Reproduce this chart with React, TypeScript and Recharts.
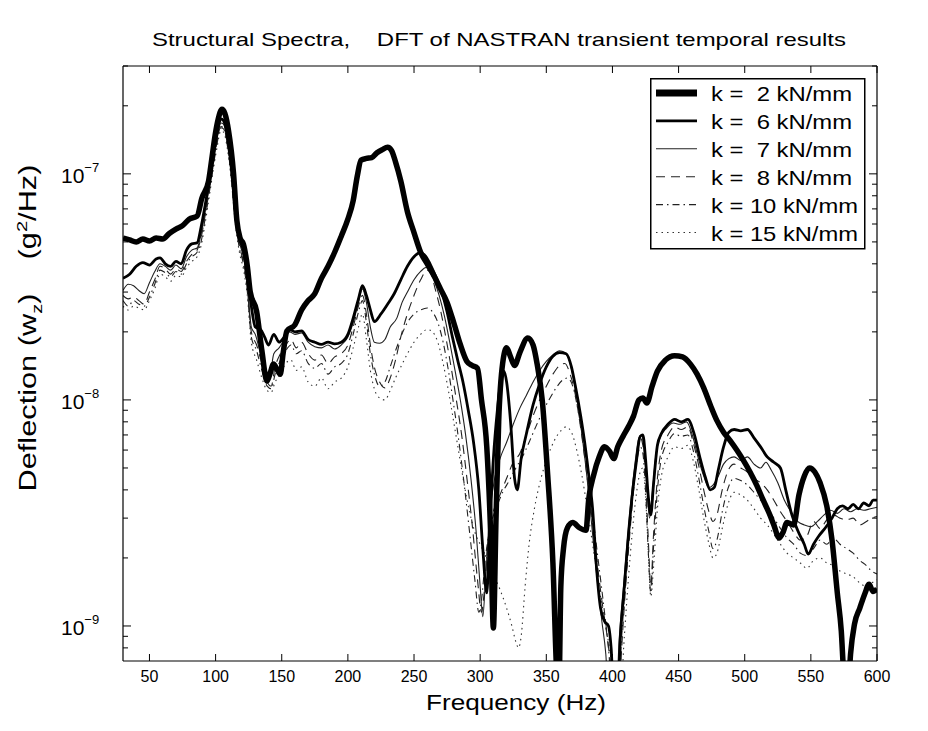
import React from 'react';
import { LineChart, Line, XAxis, YAxis, Legend } from 'recharts';

const FONT = "'Liberation Sans', Arial, Helvetica, sans-serif";

// frequency (Hz) and deflection PSD (g^2/Hz)
const freqK2 = [30, 35, 40, 45, 50, 55, 60, 65, 70, 75, 80, 86, 89.6, 94.7, 97, 99.7, 102, 104.8, 107, 109.8, 113.6, 116.1, 118.5, 121, 124, 126.2, 131, 135, 138.8, 141, 143.8, 146, 148.9, 151, 153.9, 160, 165, 170, 175, 180, 185, 190, 195, 200, 204, 207, 210, 214, 218, 222, 226, 230, 233, 236, 240, 245, 250, 255, 260, 265, 270, 275, 280, 285, 290, 294, 298, 301, 305, 308, 310, 312, 314, 317, 320, 323, 326, 330, 336, 340, 343, 347, 351, 355, 358, 359.5, 361, 363, 366, 370, 375, 380, 382, 386, 390, 394, 398, 401, 404, 408, 412, 416, 420, 423, 426, 430, 434, 440, 447, 453, 459, 464, 469, 474, 479, 484, 489, 494, 499, 504, 509, 514, 518, 522, 526, 529, 532, 537, 541, 545, 549, 553, 557, 562, 566, 570, 573, 575, 578, 580, 583, 587, 591, 594, 597, 600];
const psdK2 = [5.2e-8, 5.1e-8, 5.0e-8, 5.15e-8, 5.05e-8, 5.2e-8, 5.15e-8, 5.45e-8, 5.7e-8, 5.9e-8, 6.3e-8, 6.5e-8, 7.8e-8, 9.3e-8, 1.15e-7, 1.49e-7, 1.75e-7, 1.93e-7, 1.85e-7, 1.55e-7, 1.0e-7, 6.2e-8, 5.2e-8, 4.9e-8, 3.9e-8, 3.0e-8, 2.47e-8, 1.65e-8, 1.21e-8, 1.3e-8, 1.44e-8, 1.38e-8, 1.3e-8, 1.6e-8, 2.02e-8, 2.15e-8, 2.5e-8, 2.75e-8, 2.95e-8, 3.45e-8, 3.9e-8, 4.5e-8, 5.3e-8, 6.3e-8, 7.6e-8, 9.7e-8, 1.15e-7, 1.17e-7, 1.18e-7, 1.24e-7, 1.28e-7, 1.31e-7, 1.27e-7, 1.13e-7, 9.3e-8, 6.8e-8, 5.5e-8, 4.5e-8, 4.0e-8, 3.55e-8, 3.1e-8, 2.7e-8, 2.2e-8, 1.76e-8, 1.48e-8, 1.42e-8, 1.38e-8, 1.0e-8, 6.2e-9, 2.5e-9, 9.8e-10, 3.0e-9, 8e-9, 1.45e-8, 1.7e-8, 1.55e-8, 1.42e-8, 1.62e-8, 1.88e-8, 1.75e-8, 1.45e-8, 9.9e-9, 4.7e-9, 1.9e-9, 6e-10, 5e-10, 1.5e-9, 2.2e-9, 2.72e-9, 2.87e-9, 2.72e-9, 2.65e-9, 3.6e-9, 4.7e-9, 5.6e-9, 6.2e-9, 5.9e-9, 5.5e-9, 6.2e-9, 6.9e-9, 7.6e-9, 8.5e-9, 1.0e-8, 1.02e-8, 9.7e-9, 1.15e-8, 1.34e-8, 1.5e-8, 1.57e-8, 1.55e-8, 1.44e-8, 1.3e-8, 1.13e-8, 9.5e-9, 8.1e-9, 7.2e-9, 6.6e-9, 6.0e-9, 5.4e-9, 4.8e-9, 4.2e-9, 3.6e-9, 3.2e-9, 2.8e-9, 2.45e-9, 2.6e-9, 2.87e-9, 2.8e-9, 3.8e-9, 4.6e-9, 5.0e-9, 4.8e-9, 4.3e-9, 3.4e-9, 2.4e-9, 1.4e-9, 9.5e-10, 6e-10, 5e-10, 7.5e-10, 1.02e-9, 1.2e-9, 1.4e-9, 1.53e-9, 1.42e-9, 1.46e-9];

const freqK6 = [30, 35, 40, 45, 50, 55, 58, 62, 66, 70, 74, 78, 82, 86, 89, 92, 95, 98, 101, 104, 106, 109, 112, 115, 118, 121, 124, 127, 130, 134, 137, 140, 144, 148, 152, 156, 160, 165, 170, 175, 180, 185, 190, 195, 200, 204, 208, 211, 214, 217, 220, 225, 230, 235, 240, 245, 250, 255, 259, 263, 267, 271, 275, 279, 283, 287, 291, 295, 299, 302, 305, 307, 310, 313, 316, 318, 320, 323, 326, 328, 331, 335, 340, 345, 350, 355, 360, 365, 369, 372, 376, 379, 382, 385, 388, 391, 394, 397, 399, 401, 404, 406, 409, 412, 415, 418, 421, 423, 425, 427, 429, 431, 434, 437, 442, 447, 452, 457, 462, 466, 470, 474, 477, 480, 484, 488, 492, 497, 502, 507, 512, 517, 522, 527, 531, 535, 540, 545, 548, 552, 556, 561, 566, 570, 574, 578, 582, 586, 590, 594, 597, 600];
const psdK6 = [3.45e-8, 3.6e-8, 3.9e-8, 4.05e-8, 3.95e-8, 4.2e-8, 4.25e-8, 4.0e-8, 3.9e-8, 4.1e-8, 4.0e-8, 4.6e-8, 4.9e-8, 4.95e-8, 5.8e-8, 7.2e-8, 9.2e-8, 1.2e-7, 1.5e-7, 1.75e-7, 1.72e-7, 1.45e-7, 1.05e-7, 6.8e-8, 5.2e-8, 4.6e-8, 3.6e-8, 2.6e-8, 2.1e-8, 2.05e-8, 1.9e-8, 1.75e-8, 1.95e-8, 1.8e-8, 1.9e-8, 2.05e-8, 2.0e-8, 2.02e-8, 1.85e-8, 1.8e-8, 1.76e-8, 1.8e-8, 1.77e-8, 1.8e-8, 1.95e-8, 2.3e-8, 2.8e-8, 3.2e-8, 2.9e-8, 2.5e-8, 2.22e-8, 2.4e-8, 2.65e-8, 2.95e-8, 3.4e-8, 3.9e-8, 4.3e-8, 4.48e-8, 4.3e-8, 3.9e-8, 3.45e-8, 3.0e-8, 2.45e-8, 1.9e-8, 1.5e-8, 1.2e-8, 9e-9, 6.5e-9, 4e-9, 2.2e-9, 1.4e-9, 2.5e-9, 5.5e-9, 9e-9, 1.25e-8, 1.34e-8, 1.2e-8, 8e-9, 4.5e-9, 4.0e-9, 5.5e-9, 7.1e-9, 9.5e-9, 1.18e-8, 1.4e-8, 1.56e-8, 1.62e-8, 1.6e-8, 1.4e-8, 1.15e-8, 8.5e-9, 6.5e-9, 4.7e-9, 3.3e-9, 1.8e-9, 1.2e-9, 1.05e-9, 1.0e-9, 8e-10, 5e-10, 5e-10, 9e-10, 1.5e-9, 2.5e-9, 3.8e-9, 5.3e-9, 6.9e-9, 7.0e-9, 5.5e-9, 3.8e-9, 3.1e-9, 4.2e-9, 6.3e-9, 7.1e-9, 7.8e-9, 8.2e-9, 8.0e-9, 8.2e-9, 7.0e-9, 5.6e-9, 4.6e-9, 4.0e-9, 4.1e-9, 4.9e-9, 6.2e-9, 7.2e-9, 7.4e-9, 7.3e-9, 7.4e-9, 6.8e-9, 6.2e-9, 5.6e-9, 5.3e-9, 5.0e-9, 4.0e-9, 3.2e-9, 2.65e-9, 2.3e-9, 2.08e-9, 2.3e-9, 2.5e-9, 2.72e-9, 3.0e-9, 3.3e-9, 3.4e-9, 3.3e-9, 3.45e-9, 3.3e-9, 3.5e-9, 3.4e-9, 3.6e-9, 3.6e-9];

const freqK7 = [30, 34, 38, 42, 46, 50, 54, 58, 62, 66, 70, 74, 78, 82, 86, 89, 92, 95, 98, 101, 104, 106, 109, 112, 115, 118, 121, 124, 127, 130, 134, 138, 141, 144, 148, 152, 156, 160, 165, 170, 175, 180, 185, 190, 195, 200, 204, 208, 211, 214, 217, 220, 224, 228, 232, 237, 241, 245, 250, 255, 259, 262, 265, 269, 273, 277, 281, 285, 289, 293, 297, 300, 302, 304, 307, 311, 315, 320, 325, 330, 335, 340, 345, 350, 355, 360, 364, 368, 371, 374, 377, 380, 383, 386, 389, 392, 395, 397, 400, 403, 405, 408, 411, 414, 417, 420, 422, 424, 426, 428, 430, 433, 436, 441, 446, 451, 456, 461, 465, 469, 473, 476, 480, 484, 488, 492, 497, 502, 507, 512, 516, 520, 525, 530, 535, 540, 545, 550, 555, 560, 565, 570, 575, 580, 585, 590, 595, 600];
const psdK7 = [3.05e-8, 3.25e-8, 3.2e-8, 3.05e-8, 2.95e-8, 3.3e-8, 3.7e-8, 4.0e-8, 3.9e-8, 3.75e-8, 3.95e-8, 3.8e-8, 4.3e-8, 4.6e-8, 4.7e-8, 5.4e-8, 6.8e-8, 8.6e-8, 1.12e-7, 1.42e-7, 1.68e-7, 1.66e-7, 1.4e-7, 1.0e-7, 6.6e-8, 5.0e-8, 4.3e-8, 3.3e-8, 2.1e-8, 1.95e-8, 1.6e-8, 1.35e-8, 1.3e-8, 1.6e-8, 1.7e-8, 1.85e-8, 2.0e-8, 1.95e-8, 1.98e-8, 1.8e-8, 1.72e-8, 1.7e-8, 1.75e-8, 1.68e-8, 1.75e-8, 1.9e-8, 2.2e-8, 2.7e-8, 3.1e-8, 2.7e-8, 2.1e-8, 1.8e-8, 1.78e-8, 1.85e-8, 2.1e-8, 2.3e-8, 2.7e-8, 3.0e-8, 3.4e-8, 3.7e-8, 3.85e-8, 3.75e-8, 3.4e-8, 2.9e-8, 2.35e-8, 1.8e-8, 1.35e-8, 1.0e-8, 7e-9, 4.5e-9, 2.6e-9, 1.5e-9, 1.1e-9, 1.6e-9, 3.0e-9, 4.5e-9, 5.5e-9, 6.5e-9, 7.8e-9, 9.2e-9, 1.05e-8, 1.2e-8, 1.35e-8, 1.48e-8, 1.58e-8, 1.65e-8, 1.62e-8, 1.45e-8, 1.2e-8, 9.5e-9, 7e-9, 5e-9, 3.4e-9, 2.2e-9, 1.5e-9, 1.05e-9, 7.5e-10, 5e-10, 5e-10, 5e-10, 8.5e-10, 1.4e-9, 2.3e-9, 3.6e-9, 5.2e-9, 6.8e-9, 7.0e-9, 6.0e-9, 4.2e-9, 3.0e-9, 3.8e-9, 5.8e-9, 6.8e-9, 7.5e-9, 7.9e-9, 7.8e-9, 8.0e-9, 6.8e-9, 5.5e-9, 4.6e-9, 4.1e-9, 4.2e-9, 4.6e-9, 5.2e-9, 5.5e-9, 5.6e-9, 5.4e-9, 5.6e-9, 5.2e-9, 5.0e-9, 5.3e-9, 4.9e-9, 4.3e-9, 3.6e-9, 3.2e-9, 2.9e-9, 2.8e-9, 2.75e-9, 2.9e-9, 3.1e-9, 3.25e-9, 3.15e-9, 3.3e-9, 3.2e-9, 3.3e-9, 3.25e-9, 3.3e-9, 3.35e-9];

const freqK8 = [30, 34, 38, 42, 46, 50, 54, 58, 62, 66, 70, 74, 78, 82, 86, 89, 92, 95, 98, 101, 104, 106, 109, 112, 115, 118, 121, 124, 127, 131, 135, 139, 142, 145, 149, 153, 157, 161, 165, 170, 175, 180, 185, 190, 195, 200, 204, 208, 211, 214, 217, 220, 224, 228, 232, 236, 240, 245, 250, 255, 260, 263, 266, 270, 274, 278, 282, 286, 290, 294, 298, 301, 303, 306, 310, 315, 320, 325, 330, 335, 340, 345, 350, 355, 360, 364, 368, 372, 376, 380, 384, 388, 392, 396, 399, 402, 405, 407, 410, 413, 416, 419, 421, 423, 425, 427, 429, 431, 434, 437, 442, 447, 452, 457, 461, 465, 469, 473, 476, 479, 483, 487, 492, 497, 502, 507, 512, 517, 522, 527, 532, 537, 542, 547, 552, 557, 562, 567, 572, 577, 582, 587, 592, 596, 600];
const psdK8 = [2.9e-8, 2.8e-8, 2.85e-8, 2.75e-8, 2.65e-8, 3.0e-8, 3.4e-8, 3.9e-8, 3.8e-8, 3.6e-8, 3.8e-8, 3.7e-8, 4.1e-8, 4.4e-8, 4.6e-8, 5.2e-8, 6.5e-8, 8.3e-8, 1.08e-7, 1.38e-7, 1.62e-7, 1.6e-7, 1.35e-7, 9.8e-8, 6.4e-8, 4.8e-8, 4.1e-8, 3.1e-8, 2.0e-8, 1.75e-8, 1.45e-8, 1.2e-8, 1.15e-8, 1.4e-8, 1.6e-8, 1.75e-8, 1.85e-8, 1.7e-8, 1.8e-8, 1.6e-8, 1.5e-8, 1.58e-8, 1.45e-8, 1.55e-8, 1.6e-8, 1.75e-8, 2.1e-8, 2.6e-8, 2.9e-8, 2.4e-8, 1.75e-8, 1.4e-8, 1.2e-8, 1.13e-8, 1.25e-8, 1.5e-8, 1.9e-8, 2.4e-8, 2.9e-8, 3.4e-8, 3.75e-8, 3.6e-8, 3.1e-8, 2.5e-8, 1.9e-8, 1.4e-8, 1.0e-8, 7e-9, 4.5e-9, 2.8e-9, 1.6e-9, 1.15e-9, 1.4e-9, 2.4e-9, 3.2e-9, 3.8e-9, 4.5e-9, 5.3e-9, 5.8e-9, 7e-9, 8.5e-9, 1.0e-8, 1.15e-8, 1.3e-8, 1.42e-8, 1.45e-8, 1.3e-8, 1.05e-8, 7.5e-9, 5e-9, 3.2e-9, 2e-9, 1.3e-9, 9e-10, 6.5e-10, 5e-10, 5e-10, 8e-10, 1.5e-9, 2.5e-9, 4e-9, 5.8e-9, 6.8e-9, 6.3e-9, 4.5e-9, 2.5e-9, 1.5e-9, 2.5e-9, 4.5e-9, 6e-9, 7e-9, 7.6e-9, 7.4e-9, 7.6e-9, 6.5e-9, 5.2e-9, 4.0e-9, 3.2e-9, 2.9e-9, 3.1e-9, 4.0e-9, 4.8e-9, 5.2e-9, 5.0e-9, 4.8e-9, 4.5e-9, 4.3e-9, 4.0e-9, 3.6e-9, 3.2e-9, 2.9e-9, 2.6e-9, 2.4e-9, 2.5e-9, 2.9e-9, 2.7e-9, 2.95e-9, 3.1e-9, 3.0e-9, 2.95e-9, 3.0e-9, 2.8e-9, 2.9e-9, 3.0e-9, 3.05e-9];

const freqK10 = [30, 34, 38, 42, 46, 50, 54, 58, 62, 66, 70, 74, 78, 82, 86, 89, 92, 95, 98, 101, 104, 106, 109, 112, 115, 118, 121, 124, 127, 131, 135, 139, 142, 145, 149, 153, 157, 161, 165, 170, 175, 180, 185, 190, 195, 200, 204, 208, 211, 214, 217, 220, 224, 228, 232, 236, 240, 245, 250, 255, 260, 264, 268, 272, 276, 280, 284, 288, 292, 296, 299, 301, 304, 308, 312, 317, 322, 327, 332, 337, 342, 347, 352, 357, 362, 366, 370, 374, 378, 382, 386, 390, 394, 397, 400, 404, 407, 410, 413, 416, 419, 421, 423, 425, 427, 429, 431, 434, 437, 442, 447, 452, 457, 461, 465, 469, 473, 476, 479, 483, 487, 492, 497, 502, 507, 512, 517, 522, 527, 532, 537, 542, 547, 552, 557, 562, 567, 572, 577, 582, 587, 592, 596, 600];
const psdK10 = [2.75e-8, 2.6e-8, 2.75e-8, 2.65e-8, 2.6e-8, 2.85e-8, 3.25e-8, 3.75e-8, 3.65e-8, 3.5e-8, 3.7e-8, 3.6e-8, 4.0e-8, 4.3e-8, 4.5e-8, 5.0e-8, 6.3e-8, 8.1e-8, 1.06e-7, 1.35e-7, 1.6e-7, 1.58e-7, 1.32e-7, 9.5e-8, 6.2e-8, 4.7e-8, 4.0e-8, 3.0e-8, 1.9e-8, 1.65e-8, 1.35e-8, 1.15e-8, 1.12e-8, 1.3e-8, 1.5e-8, 1.65e-8, 1.75e-8, 1.6e-8, 1.65e-8, 1.45e-8, 1.38e-8, 1.45e-8, 1.3e-8, 1.4e-8, 1.45e-8, 1.6e-8, 1.95e-8, 2.45e-8, 2.75e-8, 2.2e-8, 1.6e-8, 1.3e-8, 1.15e-8, 1.2e-8, 1.4e-8, 1.65e-8, 1.9e-8, 2.2e-8, 2.4e-8, 2.5e-8, 2.55e-8, 2.45e-8, 2.2e-8, 1.8e-8, 1.35e-8, 9.5e-9, 6.5e-9, 4.2e-9, 2.6e-9, 1.6e-9, 1.15e-9, 1.3e-9, 2.0e-9, 2.8e-9, 3.3e-9, 3.9e-9, 4.4e-9, 5.0e-9, 5.6e-9, 6.5e-9, 7.6e-9, 8.8e-9, 1.0e-8, 1.12e-8, 1.22e-8, 1.25e-8, 1.15e-8, 9e-9, 6.5e-9, 4.3e-9, 2.8e-9, 1.8e-9, 1.15e-9, 8e-10, 5e-10, 5e-10, 9e-10, 1.6e-9, 2.7e-9, 4.2e-9, 5.6e-9, 6.2e-9, 5.8e-9, 4e-9, 2.2e-9, 1.4e-9, 2.2e-9, 4e-9, 5.5e-9, 6.5e-9, 7.1e-9, 6.9e-9, 7.0e-9, 6.0e-9, 4.6e-9, 3.4e-9, 2.6e-9, 2.2e-9, 2.4e-9, 3.2e-9, 4.0e-9, 4.5e-9, 4.4e-9, 4.2e-9, 3.9e-9, 3.6e-9, 3.3e-9, 3.0e-9, 2.7e-9, 2.45e-9, 2.3e-9, 2.1e-9, 2.05e-9, 2.2e-9, 2.4e-9, 2.3e-9, 2.45e-9, 2.3e-9, 2.2e-9, 2.1e-9, 1.95e-9, 1.85e-9, 1.75e-9, 1.7e-9];

const freqK15 = [30, 34, 38, 42, 46, 50, 54, 58, 62, 66, 70, 74, 78, 82, 86, 89, 92, 95, 98, 101, 104, 106, 109, 112, 115, 118, 121, 124, 127, 131, 135, 139, 142, 145, 149, 153, 157, 161, 165, 170, 175, 180, 185, 190, 195, 200, 204, 208, 211, 214, 217, 220, 224, 228, 232, 236, 240, 245, 250, 255, 260, 264, 268, 272, 276, 280, 284, 288, 292, 296, 300, 305, 310, 315, 320, 324, 327, 329, 331, 334, 337, 341, 346, 351, 356, 361, 365, 369, 373, 377, 381, 385, 389, 393, 397, 400, 403, 406, 409, 412, 415, 418, 421, 423, 425, 427, 429, 431, 434, 437, 442, 447, 452, 457, 461, 465, 469, 473, 476, 479, 483, 487, 492, 497, 502, 507, 512, 517, 522, 527, 532, 537, 542, 547, 552, 557, 562, 567, 572, 577, 582, 587, 592, 596, 600];
const psdK15 = [2.6e-8, 2.5e-8, 2.6e-8, 2.55e-8, 2.5e-8, 2.75e-8, 3.1e-8, 3.6e-8, 3.5e-8, 3.35e-8, 3.55e-8, 3.5e-8, 3.85e-8, 4.1e-8, 4.3e-8, 4.8e-8, 6.0e-8, 7.8e-8, 1.02e-7, 1.3e-7, 1.55e-7, 1.53e-7, 1.28e-7, 9.2e-8, 6.0e-8, 4.5e-8, 3.8e-8, 2.9e-8, 1.8e-8, 1.5e-8, 1.25e-8, 1.1e-8, 1.08e-8, 1.2e-8, 1.3e-8, 1.45e-8, 1.5e-8, 1.35e-8, 1.4e-8, 1.2e-8, 1.15e-8, 1.25e-8, 1.12e-8, 1.2e-8, 1.25e-8, 1.4e-8, 1.7e-8, 2.1e-8, 2.4e-8, 1.85e-8, 1.35e-8, 1.12e-8, 1.02e-8, 1.0e-8, 1.1e-8, 1.25e-8, 1.4e-8, 1.6e-8, 1.8e-8, 1.95e-8, 2.05e-8, 2.0e-8, 1.8e-8, 1.45e-8, 1.1e-8, 8e-9, 5.8e-9, 4.2e-9, 3.2e-9, 2.6e-9, 2.3e-9, 2.0e-9, 1.7e-9, 1.45e-9, 1.2e-9, 1.0e-9, 8.5e-10, 8.0e-10, 9e-10, 1.5e-9, 2.3e-9, 3.3e-9, 4.5e-9, 5.6e-9, 6.6e-9, 7.3e-9, 7.6e-9, 7.2e-9, 6.0e-9, 4.6e-9, 3.3e-9, 2.3e-9, 1.6e-9, 1.15e-9, 8.5e-10, 6.5e-10, 5e-10, 5e-10, 9e-10, 1.6e-9, 2.6e-9, 3.8e-9, 4.8e-9, 5.0e-9, 3.8e-9, 2.2e-9, 1.35e-9, 1.8e-9, 3.3e-9, 4.6e-9, 5.6e-9, 6.2e-9, 6.1e-9, 6.3e-9, 5.4e-9, 4.1e-9, 3.0e-9, 2.3e-9, 2.0e-9, 2.1e-9, 2.7e-9, 3.4e-9, 3.9e-9, 3.8e-9, 3.6e-9, 3.3e-9, 3.0e-9, 2.8e-9, 2.55e-9, 2.3e-9, 2.1e-9, 2.0e-9, 1.9e-9, 1.8e-9, 1.95e-9, 2.0e-9, 1.9e-9, 1.85e-9, 1.75e-9, 1.7e-9, 1.65e-9, 1.55e-9, 1.5e-9, 1.55e-9, 1.6e-9];

const xTicks = [50, 100, 150, 200, 250, 300, 350, 400, 450, 500, 550, 600];
const yTicks = [8e-10, 9e-10, 1e-9, 2e-9, 3e-9, 4e-9, 5e-9, 6e-9, 7e-9, 8e-9, 9e-9, 1e-8, 2e-8, 3e-8, 4e-8, 5e-8, 6e-8, 7e-8, 8e-8, 9e-8, 1e-7, 2e-7, 3e-7];

const toRows = (f: number[], v: number[]) => f.map((x, i) => ({ f: x, v: v[i] }));

const series = [
  { name: 'k =  2 kN/mm', data: toRows(freqK2, psdK2), width: 5.5, dash: undefined, color: '#000', textLen: 141 },
  { name: 'k =  6 kN/mm', data: toRows(freqK6, psdK6), width: 2.8, dash: undefined, color: '#000', textLen: 141 },
  { name: 'k =  7 kN/mm', data: toRows(freqK7, psdK7), width: 1.1, dash: undefined, color: '#222', textLen: 141 },
  { name: 'k =  8 kN/mm', data: toRows(freqK8, psdK8), width: 1.1, dash: '9 6', color: '#222', textLen: 141 },
  { name: 'k = 10 kN/mm', data: toRows(freqK10, psdK10), width: 1.1, dash: '7 4 1.5 4', color: '#222', textLen: 147 },
  { name: 'k = 15 kN/mm', data: toRows(freqK15, psdK15), width: 1.1, dash: '1.5 4', color: '#333', textLen: 147 },
];

const isDecade = (v: number) => {
  const l = Math.log10(v);
  return Math.abs(l - Math.round(l)) < 1e-6;
};

const BottomTick = (props: any) => {
  const { x, y, payload } = props;
  return (
    <g>
      <line x1={x} x2={x} y1={y} y2={y - 7} stroke="#000" />
      <text x={x} y={y + 21} textAnchor="middle" fontSize={16} fontFamily={FONT} fill="#000">
        {payload.value}
      </text>
    </g>
  );
};

const TopTick = (props: any) => {
  const { x, y } = props;
  return <line x1={x} x2={x} y1={y} y2={y + 7} stroke="#000" />;
};

const LeftTick = (props: any) => {
  const { x, y, payload } = props;
  const major = isDecade(payload.value);
  const e = Math.round(Math.log10(payload.value));
  return (
    <g>
      <line x1={x} x2={x + (major ? 8 : 5)} y1={y} y2={y} stroke="#000" />
      {major && (
        <text x={x - 62} y={y + 9} fontSize={21} fontFamily={FONT} fill="#000">
          10
          <tspan dy={-11} fontSize={13}>{'\u2212' + Math.abs(e)}</tspan>
        </text>
      )}
    </g>
  );
};

const RightTick = (props: any) => {
  const { x, y, payload } = props;
  const major = isDecade(payload.value);
  return <line x1={x} x2={x - (major ? 8 : 5)} y1={y} y2={y} stroke="#000" />;
};

const TitleLabel = () => (
  <text x={499} y={46} textAnchor="middle" fontSize={19} fontFamily={FONT} fill="#000"
    textLength={694} lengthAdjust="spacingAndGlyphs" style={{ whiteSpace: 'pre' }}>
    {'Structural Spectra,    DFT of NASTRAN transient temporal results'}
  </text>
);

const XLabel = () => (
  <text x={516} y={710} textAnchor="middle" fontSize={22} fontFamily={FONT} fill="#000"
    textLength={180} lengthAdjust="spacingAndGlyphs">
    Frequency (Hz)
  </text>
);

const YLabel = () => (
  <text x={36} y={328} transform="rotate(-90, 36, 328)" textAnchor="middle" fontSize={23} fontFamily={FONT}
    fill="#000" textLength={327} lengthAdjust="spacingAndGlyphs" style={{ whiteSpace: 'pre' }}>
    {'Deflection (w'}
    <tspan dy={6} fontSize={15}>z</tspan>
    <tspan dy={-6}>{')    (g'}</tspan>
    <tspan dy={-9} fontSize={15}>2</tspan>
    <tspan dy={9}>/Hz)</tspan>
  </text>
);

const LegendBox = () => (
  <svg width={216} height={172} style={{ display: 'block' }}>
    <rect x={0.75} y={0.75} width={214} height={170} fill="#fff" stroke="#000" strokeWidth={1.5} />
    {series.map((s, i) => {
      const cy = 15 + i * 27.9;
      return (
        <g key={s.name}>
          <line x1={6} x2={47} y1={cy} y2={cy} stroke={s.color} strokeWidth={i === 0 ? 7 : s.width}
            strokeDasharray={s.dash} />
          <text x={61} y={cy + 8} fontSize={21} fontFamily={FONT} fill="#000" textLength={s.textLen}
            lengthAdjust="spacingAndGlyphs" style={{ whiteSpace: 'pre' }}>
            {s.name}
          </text>
        </g>
      );
    })}
  </svg>
);

export default function App() {
  const drawOrder = [...series].reverse();
  return (
    <div style={{ position: 'absolute', left: 0, top: 0, width: 928, height: 731, background: '#fff' }}>
      <LineChart width={928} height={731} margin={{ top: 65, right: 50, left: 0, bottom: 0 }}>
        <XAxis xAxisId="b" dataKey="f" type="number" domain={[30, 600]} allowDataOverflow ticks={xTicks}
          interval={0} height={70} tickSize={0} tickMargin={0} tickLine={false} tick={<BottomTick />}
          axisLine={{ stroke: '#000', strokeWidth: 1.2 }} label={<XLabel />} />
        <XAxis xAxisId="t" orientation="top" dataKey="f" type="number" domain={[30, 600]} allowDataOverflow
          ticks={xTicks} interval={0} height={1} tickSize={0} tickMargin={0} tickLine={false} tick={<TopTick />}
          axisLine={{ stroke: '#000', strokeWidth: 1.2 }} label={<TitleLabel />} />
        <YAxis yAxisId="l" type="number" scale="log" domain={[7e-10, 3e-7]} allowDataOverflow ticks={yTicks}
          interval={0} width={123} tickSize={0} tickMargin={0} tickLine={false} tick={<LeftTick />}
          axisLine={{ stroke: '#000', strokeWidth: 1.2 }} label={<YLabel />} />
        <YAxis yAxisId="r" orientation="right" type="number" scale="log" domain={[7e-10, 3e-7]} allowDataOverflow
          ticks={yTicks} interval={0} width={1} tickSize={0} tickMargin={0} tickLine={false} tick={<RightTick />}
          axisLine={{ stroke: '#000', strokeWidth: 1.2 }} />
        {drawOrder.map((s) => (
          <Line key={s.name} xAxisId="b" yAxisId="l" data={s.data} dataKey="v" name={s.name} type="monotone"
            stroke={s.color} strokeWidth={s.width} strokeDasharray={s.dash} dot={false} activeDot={false}
            isAnimationActive={false} />
        ))}
        <Legend layout="vertical" align="center" verticalAlign="middle"
          wrapperStyle={{ left: 650, top: 78, width: 216, height: 172 }} content={() => <LegendBox />} />
      </LineChart>
    </div>
  );
}
